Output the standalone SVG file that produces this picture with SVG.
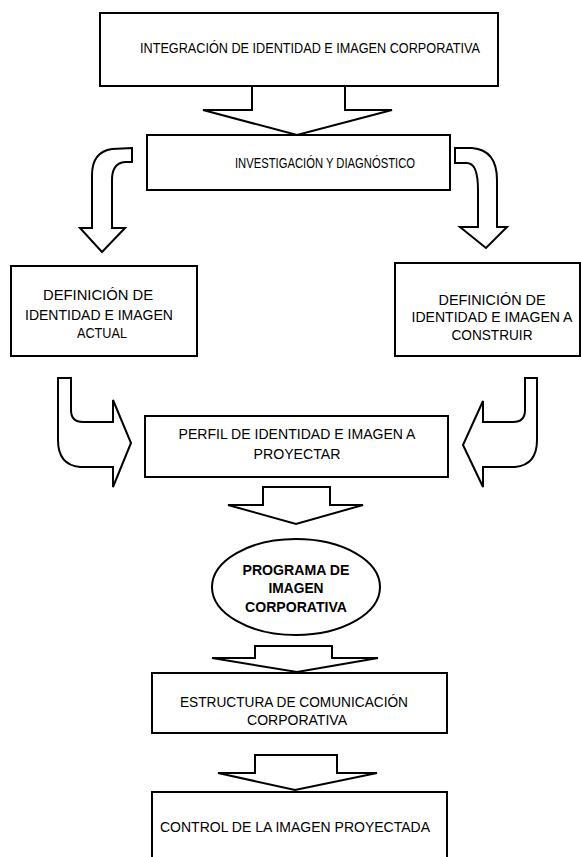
<svg xmlns="http://www.w3.org/2000/svg" width="581" height="857" viewBox="0 0 581 857">
<style>
.box{fill:#fff;stroke:#000;stroke-width:2}
.arr{fill:#fff;stroke:#000;stroke-width:2;stroke-linejoin:miter}
text{font-family:"Liberation Sans",Arial,sans-serif;font-size:14px;fill:#000;text-anchor:middle}
.b{font-weight:bold}
</style>
<rect width="581" height="857" fill="#fff"/>
<g id="connectors">
<path class="arr" d="M252,86 V110 H203 L297,135 L392,110 H345 V86"/>
<path class="arr" d="M132,148 L112,149 Q92,152 92,175 L92,228 L80,228 L102,252 L125,228 L112,228 L112,180 Q112,163 125,162 L132,162 Z"/>
<path class="arr" d="M455,148 L472,148 Q497,150 497,180 L497,227 L507,227 L486,248 L460,227 L478,227 L478,190 Q478,163 467,163 L455,163 Z"/>
<path class="arr" d="M58,378 L71,378 L71,410 Q71,422 83,422 L113,422 L113,400 L131,443 L113,487 L113,467 L80,467 Q58,465 58,440 Z"/>
<path class="arr" d="M537,378 L525,378 L525,410 Q525,422 513,422 L483,422 L483,401 L463,445 L483,487 L483,467 L515,467 Q537,465 537,440 Z"/>
<path class="arr" d="M263,487 H330 V505 H363 L296,524 L228,505 H263 Z"/>
<path class="arr" d="M255,646 H332 V658 H378 L297,672 L212,658 H255 Z"/>
<path class="arr" d="M255,755 H337 V773 H377 L295,790 L218,773 H255 Z"/>
</g>
<g id="n1">
<rect class="box" x="100" y="13" width="398" height="73"/>
<text x="310" y="53" textLength="340" lengthAdjust="spacingAndGlyphs">INTEGRACIÓN DE IDENTIDAD E IMAGEN CORPORATIVA</text>
</g>
<g id="n2">
<rect class="box" x="147" y="135" width="303" height="55"/>
<text x="325" y="168" textLength="180" lengthAdjust="spacingAndGlyphs">INVESTIGACIÓN Y DIAGNÓSTICO</text>
</g>
<g id="n3">
<rect class="box" x="11" y="266" width="186" height="90"/>
<text x="98" y="300" textLength="110" lengthAdjust="spacingAndGlyphs">DEFINICIÓN DE</text>
<text x="99" y="320" textLength="148" lengthAdjust="spacingAndGlyphs">IDENTIDAD E IMAGEN</text>
<text x="102" y="338" textLength="50" lengthAdjust="spacingAndGlyphs">ACTUAL</text>
</g>
<g id="n4">
<rect class="box" x="395" y="263" width="185" height="93"/>
<text x="492" y="305" textLength="107" lengthAdjust="spacingAndGlyphs">DEFINICIÓN DE</text>
<text x="492" y="322" textLength="161" lengthAdjust="spacingAndGlyphs">IDENTIDAD E IMAGEN A</text>
<text x="492" y="340" textLength="81" lengthAdjust="spacingAndGlyphs">CONSTRUIR</text>
</g>
<g id="n5">
<rect class="box" x="145" y="416" width="303" height="61"/>
<text x="297" y="439" textLength="237" lengthAdjust="spacingAndGlyphs">PERFIL DE IDENTIDAD E IMAGEN A</text>
<text x="297" y="459" textLength="87" lengthAdjust="spacingAndGlyphs">PROYECTAR</text>
</g>
<g id="n6">
<ellipse class="box" cx="296" cy="587" rx="84" ry="48"/>
<text class="b" x="296" y="575" textLength="107" lengthAdjust="spacingAndGlyphs">PROGRAMA DE</text>
<text class="b" x="296" y="593" textLength="55" lengthAdjust="spacingAndGlyphs">IMAGEN</text>
<text class="b" x="296" y="612" textLength="102" lengthAdjust="spacingAndGlyphs">CORPORATIVA</text>
</g>
<g id="n7">
<rect class="box" x="152" y="673" width="295" height="60"/>
<text x="294" y="707" textLength="228" lengthAdjust="spacingAndGlyphs">ESTRUCTURA DE COMUNICACIÓN</text>
<text x="297" y="725" textLength="100" lengthAdjust="spacingAndGlyphs">CORPORATIVA</text>
</g>
<g id="n8">
<rect class="box" x="152" y="792" width="295" height="80"/>
<text x="295" y="832" textLength="270" lengthAdjust="spacingAndGlyphs">CONTROL DE LA IMAGEN PROYECTADA</text>
</g>
</svg>
